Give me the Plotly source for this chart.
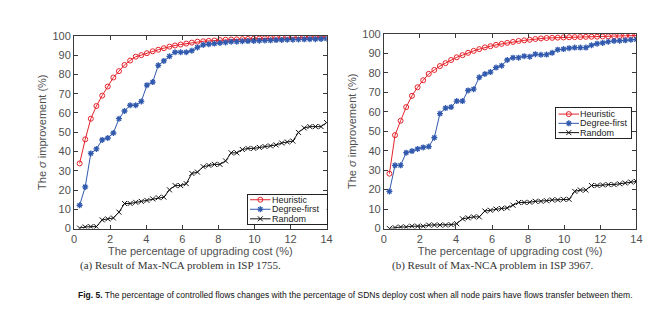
import plotly.graph_objects as go

# ---------------- data ----------------
upgrade_cost = [0.31, 0.62, 0.93, 1.24, 1.56, 1.87, 2.18, 2.49, 2.80, 3.11,
                3.42, 3.73, 4.04, 4.36, 4.67, 4.98, 5.29, 5.60, 5.91, 6.22,
                6.53, 6.84, 7.16, 7.47, 7.78, 8.09, 8.40, 8.71, 9.02, 9.33,
                9.64, 9.96, 10.27, 10.58, 10.89, 11.20, 11.51, 11.82, 12.13, 12.44,
                12.76, 13.07, 13.38, 13.69, 14.00]

series_names = ["Heuristic", "Degree-first", "Random"]

# (a) ISP 1755
a_heuristic = [33.8, 46.3, 57.0, 63.6, 69.0, 73.7, 78.4, 81.7, 84.9, 87.2,
               89.2, 90.0, 91.0, 92.0, 92.8, 93.6, 94.4, 95.0, 95.5, 96.0,
               96.5, 97.0, 97.2, 97.4, 97.6, 97.8, 98.0, 98.1, 98.2, 98.3,
               98.4, 98.5, 98.6, 98.7, 98.8, 98.9, 99.0, 99.05, 99.1, 99.15,
               99.2, 99.3, 99.35, 99.4, 99.5]
a_degree = [12.1, 21.6, 39.0, 41.3, 46.0, 47.0, 49.6, 57.0, 61.0, 64.0,
            64.0, 66.0, 74.4, 76.0, 84.7, 87.0, 89.4, 91.5, 91.5, 91.5,
            92.3, 94.0, 95.3, 95.7, 96.0, 96.3, 96.6, 97.0, 97.0, 97.2,
            97.3, 97.4, 97.5, 97.6, 97.7, 97.8, 97.9, 98.0, 98.0, 98.1,
            98.2, 98.3, 98.3, 98.4, 98.5]
a_random = [0.2, 0.8, 1.0, 1.0, 4.5, 5.0, 5.5, 8.5, 13.0, 13.0,
            13.6, 14.1, 14.6, 15.4, 16.0, 16.3, 20.1, 22.3, 22.3, 23.3,
            28.6, 29.3, 32.1, 32.8, 33.3, 33.3, 35.1, 39.3, 39.3, 41.0,
            41.6, 41.6, 42.1, 42.6, 42.9, 43.4, 44.4, 44.9, 45.4, 49.9,
            52.2, 52.9, 52.9, 52.9, 55.0]

# (b) ISP 3967
b_heuristic = [28.2, 48.0, 55.4, 62.4, 68.2, 72.6, 76.2, 79.5, 81.5, 83.5,
               85.0, 86.6, 88.0, 89.1, 90.3, 91.3, 92.2, 93.1, 93.7, 94.4,
               94.9, 95.4, 95.9, 96.4, 96.7, 97.0, 97.4, 97.7, 97.9, 98.0,
               98.1, 98.2, 98.3, 98.35, 98.4, 98.5, 98.55, 98.6, 98.7, 98.75,
               98.8, 98.9, 99.0, 99.1, 99.2]
b_degree = [19.1, 32.5, 32.5, 39.0, 39.8, 40.9, 41.7, 42.1, 46.7, 59.1,
            61.9, 62.4, 65.5, 65.5, 71.0, 71.6, 77.7, 79.4, 80.4, 82.7,
            83.7, 86.6, 87.8, 87.8, 88.6, 88.3, 89.6, 89.3, 89.4, 90.3,
            91.9, 92.2, 92.7, 93.0, 93.0, 93.0, 94.2, 95.0, 95.4, 96.0,
            96.4, 96.5, 96.7, 97.0, 97.2]
b_random = [0.0, 0.5, 0.8, 0.8, 1.2, 1.2, 1.2, 1.8, 1.8, 1.8,
            1.8, 2.0, 2.5, 5.0, 5.5, 6.0, 6.0, 9.0, 9.4, 10.0,
            10.3, 10.6, 12.0, 13.4, 13.4, 13.5, 14.0, 14.0, 14.3, 14.7,
            14.7, 15.0, 15.0, 19.1, 19.8, 19.8, 22.1, 22.1, 22.4, 22.6,
            22.6, 23.0, 23.4, 23.9, 24.2]

x_ticks = [0, 2, 4, 6, 8, 10, 12, 14]
y_ticks = [0, 10, 20, 30, 40, 50, 60, 70, 80, 90, 100]

x_title = "The percentage of upgrading cost (%)"
y_title = "The <i>σ</i> improvement (%)"
caption_a = "(a) Result of Max-NCA problem in ISP 1755."
caption_b = "(b) Result of Max-NCA problem in ISP 3967."
fig_caption = ("<b>Fig. 5.</b> The percentage of controlled flows changes with the percentage "
               "of SDNs deploy cost when all node pairs have flows transfer between them.")

# ---------------- styles ----------------
W, H = 672, 328
RED = "#e5232b"
BLUE = "#3159ad"
BLACK = "#111111"
AX = "#3a3a3a"
styles = [
    dict(color=RED, symbol="circle-open", size=5, lw=1.0),
    dict(color=BLUE, symbol="asterisk-open", size=5, lw=1.3),
    dict(color=BLACK, symbol="x-thin-open", size=5, lw=1.0),
]

fig = go.Figure()

def add_series(xa, ya, ys_list):
    for name, ys, st in zip(series_names, ys_list, styles):
        fig.add_trace(go.Scatter(
            x=upgrade_cost, y=ys, name=name, mode="lines+markers",
            xaxis=xa, yaxis=ya, showlegend=False,
            line=dict(color=st["color"], width=1),
            marker=dict(symbol=st["symbol"], size=st["size"], color=st["color"],
                        line=dict(color=st["color"], width=st["lw"])),
        ))

add_series("x", "y", [a_heuristic, a_degree, a_random])
add_series("x2", "y2", [b_heuristic, b_degree, b_random])

# ---------------- custom legends (small MATLAB-style boxes) ----------------
def add_legend(xa, ya, rows, line_x, mark_x, text_x):
    for name, st, ry in zip(series_names, styles, rows):
        fig.add_trace(go.Scatter(
            x=line_x, y=[ry, ry], mode="lines", xaxis=xa, yaxis=ya,
            showlegend=False, hoverinfo="skip",
            line=dict(color=st["color"], width=1)))
        fig.add_trace(go.Scatter(
            x=[mark_x], y=[ry], mode="markers", xaxis=xa, yaxis=ya,
            showlegend=False, hoverinfo="skip",
            marker=dict(symbol=st["symbol"], size=st["size"], color=st["color"],
                        line=dict(color=st["color"], width=st["lw"]))))
        fig.add_annotation(x=text_x, y=ry, xref=xa, yref=ya, text=name,
                           showarrow=False, xanchor="left", yanchor="middle", borderpad=0,
                           font=dict(family="Liberation Sans, Arial", size=9, color="#222"))

add_legend("x3", "y3", [0.83, 0.50, 0.17], [0.03, 0.29], 0.16, 0.29)
add_legend("x4", "y4", [0.80, 0.49, 0.18], [0.04, 0.31], 0.175, 0.31)

# ---------------- layout ----------------
def px_x(p):
    return p / W

def px_y(p):
    return (H - p) / H

tick_font = dict(family="Liberation Sans, Arial", size=11, color="#505050")
title_font = dict(family="Liberation Sans, Arial", size=11, color="#505050")

def data_xaxis(domain, anchor):
    return dict(domain=domain, anchor=anchor, range=[0, 14], tickvals=x_ticks,
                ticks="inside", ticklen=4, tickcolor=AX, showline=True, linecolor=AX,
                linewidth=1, mirror="ticks", showgrid=False, zeroline=False,
                tickfont=tick_font, title=dict(text=x_title, font=title_font, standoff=3))

def data_yaxis(domain, anchor):
    return dict(domain=domain, anchor=anchor, range=[0, 100], tickvals=y_ticks,
                ticks="inside", ticklen=4, tickcolor=AX, showline=True, linecolor=AX,
                linewidth=1, mirror="ticks", showgrid=False, zeroline=False,
                tickfont=tick_font, title=dict(text=y_title, font=title_font, standoff=3))

def legend_axis(domain, anchor):
    return dict(domain=domain, anchor=anchor, range=[0, 1], showline=True, mirror=True,
                linecolor="#222", linewidth=1, showticklabels=False, ticks="",
                showgrid=False, zeroline=False, fixedrange=True)

fig.update_layout(
    width=W, height=H, margin=dict(l=0, r=0, t=0, b=0),
    paper_bgcolor="white", plot_bgcolor="white",
    xaxis=data_xaxis([px_x(72), px_x(328)], "y"),
    yaxis=data_yaxis([px_y(231), px_y(31)], "x"),
    xaxis2=data_xaxis([px_x(386), px_x(642)], "y2"),
    yaxis2=data_yaxis([px_y(231), px_y(29)], "x2"),
    xaxis3=legend_axis([px_x(248), px_x(328)], "y3"),
    yaxis3=legend_axis([px_y(226), px_y(196)], "x3"),
    xaxis4=legend_axis([px_x(560), px_x(637)], "y4"),
    yaxis4=legend_axis([px_y(137), px_y(106)], "x4"),
    showlegend=False,
)

cap_font = dict(family="Liberation Serif, Times New Roman", size=11, color="#333")
fig.add_annotation(x=px_x(180), y=px_y(269), xref="paper", yref="paper", text=caption_a,
                   showarrow=False, xanchor="center", yanchor="middle", font=cap_font)
fig.add_annotation(x=px_x(497), y=px_y(269), xref="paper", yref="paper", text=caption_b,
                   showarrow=False, xanchor="center", yanchor="middle", font=cap_font)
fig.add_annotation(x=px_x(357), y=px_y(300), xref="paper", yref="paper", text=fig_caption,
                   showarrow=False, xanchor="center", yanchor="middle",
                   font=dict(family="Liberation Sans Narrow, Liberation Sans, Arial", size=8.5, color="#111"))

fig.write_html("out.html")
